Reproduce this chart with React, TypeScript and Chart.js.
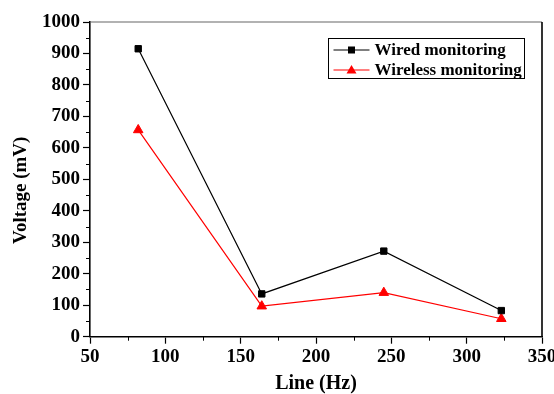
import React, { useEffect, useRef } from "react";
import { Chart, registerables } from "chart.js";

Chart.register(...registerables);

// ---- data ----
const frequencies = [82, 164, 245, 323];
const wiredVoltage = [915, 136, 272, 83];
const wirelessVoltage = [657, 97, 140, 57];
const seriesNames = ["Wired monitoring", "Wireless monitoring"];
const seriesColors = ["#000000", "#ff0000"];
const xTickValues = [50, 100, 150, 200, 250, 300, 350];
const yTickValues = [0, 100, 200, 300, 400, 500, 600, 700, 800, 900, 1000];
const xTitle = "Line (Hz)";
const yTitle = "Voltage (mV)";

const FONT = "'Liberation Serif', 'Times New Roman', serif";

const minorOf = (vals: number[]) =>
  vals.slice(0, -1).map((v, i) => (v + vals[i + 1]) / 2);

const decorPlugin = {
  id: "decor",
  afterDraw(chart: any) {
    const { ctx, chartArea } = chart;
    const xs = chart.scales.x;
    const ys = chart.scales.y;
    ctx.save();
    // minor ticks
    ctx.strokeStyle = "#000";
    ctx.lineWidth = 1;
    minorOf(xTickValues).forEach((v) => {
      const px = Math.round(xs.getPixelForValue(v)) + 0.5;
      ctx.beginPath();
      ctx.moveTo(px, chartArea.bottom);
      ctx.lineTo(px, chartArea.bottom + 4);
      ctx.stroke();
    });
    minorOf(yTickValues).forEach((v) => {
      const py = Math.round(ys.getPixelForValue(v)) + 0.5;
      ctx.beginPath();
      ctx.moveTo(chartArea.left - 4, py);
      ctx.lineTo(chartArea.left, py);
      ctx.stroke();
    });
    // top & right frame
    ctx.strokeStyle = "#666";
    ctx.lineWidth = 1.2;
    ctx.beginPath();
    ctx.moveTo(chartArea.left, chartArea.top);
    ctx.lineTo(chartArea.right, chartArea.top);
    ctx.stroke();
    ctx.strokeStyle = "#000";
    ctx.lineWidth = 1.6;
    ctx.beginPath();
    ctx.moveTo(chartArea.right, chartArea.top);
    ctx.lineTo(chartArea.right, chartArea.bottom);
    ctx.stroke();

    // y axis title (placed slightly below centre, as in the source figure)
    ctx.save();
    ctx.translate(21, (chartArea.top + chartArea.bottom) / 2 + 11);
    ctx.rotate(-Math.PI / 2);
    ctx.font = `bold 19px ${FONT}`;
    ctx.fillStyle = "#000";
    ctx.textAlign = "center";
    ctx.textBaseline = "middle";
    ctx.fillText(yTitle, 0, 0);
    ctx.restore();

    // legend
    const boxW = 196;
    const boxH = 40;
    const bx = Math.round(chartArea.right - 17.7 - boxW) + 0.5;
    const by = Math.round(chartArea.top + 16) + 0.5;
    ctx.fillStyle = "#fff";
    ctx.fillRect(bx, by, boxW, boxH);
    ctx.strokeStyle = "#000";
    ctx.lineWidth = 1;
    ctx.strokeRect(bx, by, boxW, boxH);
    ctx.font = `bold 17px ${FONT}`;
    ctx.textBaseline = "middle";
    ctx.textAlign = "left";
    seriesNames.forEach((name, i) => {
      const cy = by + 11.5 + i * 20;
      const color = seriesColors[i];
      ctx.strokeStyle = color;
      ctx.lineWidth = 1.2;
      ctx.beginPath();
      ctx.moveTo(bx + 5, cy);
      ctx.lineTo(bx + 41, cy);
      ctx.stroke();
      const mx = bx + 23;
      ctx.fillStyle = color;
      if (i === 0) {
        ctx.fillRect(mx - 3.5, cy - 3.5, 7, 7);
      } else {
        ctx.beginPath();
        ctx.moveTo(mx, cy - 5);
        ctx.lineTo(mx + 5, cy + 3.5);
        ctx.lineTo(mx - 5, cy + 3.5);
        ctx.closePath();
        ctx.fill();
      }
      ctx.fillStyle = "#000";
      ctx.fillText(name, bx + 46, cy + 1);
    });
    ctx.restore();
  },
};

export default function App() {
  const ref = useRef<HTMLCanvasElement | null>(null);

  useEffect(() => {
    document.body.style.margin = "0";
    const canvas = ref.current;
    if (!canvas) return;
    const tickFont = { family: FONT, size: 19, weight: "bold" as const };
    const titleFont = { family: FONT, size: 20, weight: "bold" as const, lineHeight: 1 };
    const chart = new Chart(canvas, {
      type: "line",
      data: {
        datasets: [
          {
            label: seriesNames[0],
            data: frequencies.map((x, i) => ({ x, y: wiredVoltage[i] })),
            borderColor: seriesColors[0],
            backgroundColor: seriesColors[0],
            borderWidth: 1.2,
            pointStyle: "rect",
            pointRadius: 4.5,
            pointBorderWidth: 1,
            tension: 0,
          },
          {
            label: seriesNames[1],
            data: frequencies.map((x, i) => ({ x, y: wirelessVoltage[i] })),
            borderColor: seriesColors[1],
            backgroundColor: seriesColors[1],
            borderWidth: 1.2,
            pointStyle: "triangle",
            pointRadius: 5.5,
            pointBorderWidth: 1,
            tension: 0,
          },
        ],
      },
      options: {
        animation: false,
        responsive: false,
        layout: { padding: { top: 22, right: 12, left: 0, bottom: 0 } },
        plugins: {
          legend: { display: false },
          tooltip: { enabled: false },
        },
        scales: {
          x: {
            type: "linear",
            min: 50,
            max: 350,
            afterBuildTicks: (scale: any) => {
              scale.ticks = xTickValues.map((v) => ({ value: v }));
            },
            afterFit: (scale: any) => {
              scale.height = 57.3;
              scale.paddingLeft = 0;
              scale.paddingRight = 0;
            },
            grid: {
              drawOnChartArea: false,
              drawTicks: true,
              tickLength: 7,
              tickColor: "#000",
              tickWidth: 1.2,
            },
            border: { display: true, color: "#000", width: 1.6 },
            ticks: {
              color: "#000",
              font: tickFont,
              padding: 2,
              autoSkip: false,
              maxRotation: 0,
              callback: (v: any) => String(v),
            },
            title: {
              display: true,
              text: xTitle,
              color: "#000",
              font: titleFont,
              padding: { top: 0, bottom: 0 },
            },
          },
          y: {
            type: "linear",
            min: 0,
            max: 1000,
            afterBuildTicks: (scale: any) => {
              scale.ticks = yTickValues.map((v) => ({ value: v }));
            },
            afterFit: (scale: any) => {
              scale.width = 90;
              scale.paddingTop = 0;
              scale.paddingBottom = 0;
            },
            grid: {
              drawOnChartArea: false,
              drawTicks: true,
              tickLength: 7,
              tickColor: "#000",
              tickWidth: 1.2,
            },
            border: { display: true, color: "#000", width: 1.6 },
            ticks: {
              color: "#000",
              font: tickFont,
              padding: 3,
              autoSkip: false,
              callback: (v: any) => String(v),
            },
            title: { display: false },
          },
        },
      },
      plugins: [decorPlugin],
    } as any);
    return () => chart.destroy();
  }, []);

  return (
    <div style={{ position: "absolute", left: 0, top: 0, width: 554, height: 394, background: "#fff" }}>
      <canvas ref={ref} width={554} height={394} />
    </div>
  );
}
